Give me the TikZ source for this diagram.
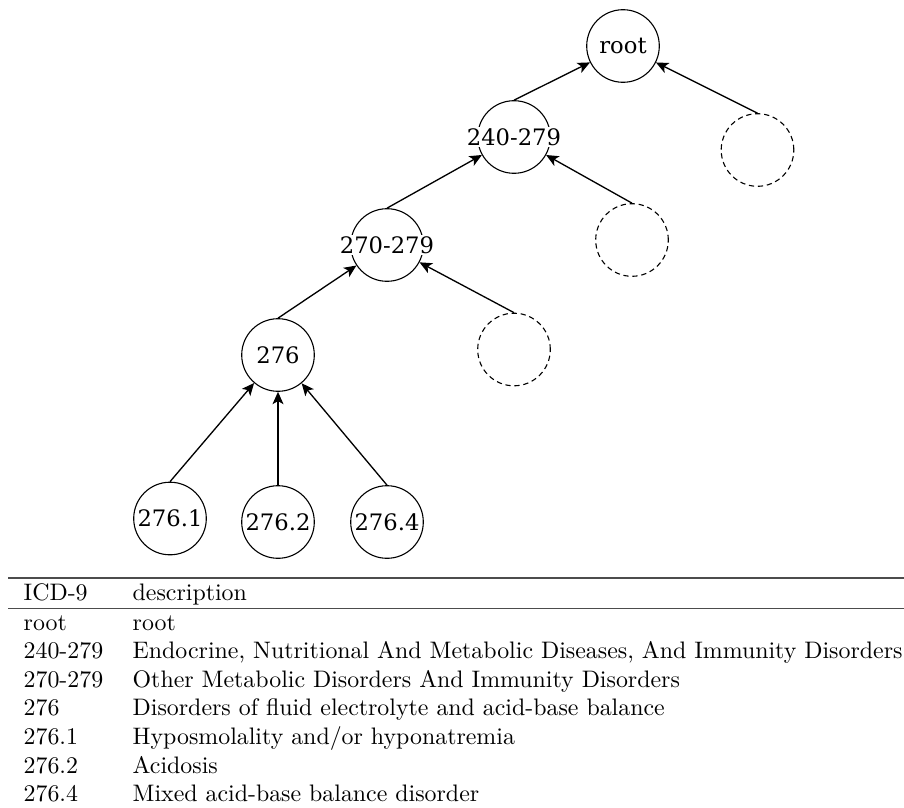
\documentclass[tikz,border=0pt]{standalone}
\usepackage{fontspec}
\newfontfamily\treefont{DejaVu Serif}
\usetikzlibrary{arrows.meta}

\tikzset{
  icd/.style={circle, draw, line width=0.5pt, minimum size=33pt, inner sep=0pt,
    label={[fill=white, inner sep=0.6pt, font=\treefont\fontsize{10.3}{12}\selectfont]center:#1}},
  hidden/.style={circle, draw, line width=0.5pt, dash pattern=on 2.4pt off 1.7pt,
    minimum size=33pt, inner sep=0pt},
  cell/.style={anchor=base west, inner sep=0pt, font=\fontsize{10.85}{13}\selectfont},
  rule/.style={line width=0.9pt, draw=black!70}
}

\begin{document}
\begin{tikzpicture}[x=0.4545pt, y=-0.4545pt, >={Stealth[length=5.6pt,width=5pt,inset=1.4pt]}, line width=0.6pt]
  \useasboundingbox (0,0) rectangle (904,807);

  % tree
  \node[icd=root]    (root) at (623,46)    {};
  \node[icd=240-279] (n240) at (514,137)   {};
  \node[hidden]      (u1)   at (757.5,150) {};
  \node[icd=270-279] (n270) at (387,245)   {};
  \node[hidden]      (u2)   at (632,240)   {};
  \node[icd=276]     (n276) at (278,355)   {};
  \node[hidden]      (u3)   at (514,349.5) {};
  \node[icd=276.1]   (l1)   at (170,518.5) {};
  \node[icd=276.2]   (l2)   at (278,522)   {};
  \node[icd=276.4]   (l4)   at (387,522)   {};

  \path[->]
        (n240.north) edge (root)
        (u1.north)   edge (root)
        (n270.north) edge (n240)
        (u2.north)   edge (n240)
        (n276.north) edge (n270)
        (u3.north)   edge (n270)
        (l1.north)   edge (n276)
        (l2.north)   edge (n276)
        (l4.north)   edge (n276);

  % table
  \draw[rule] (8,578) -- (904,578);
  \node[cell] (hcode) at (23,600)  {ICD-9};
  \node[cell] (hdesc) at (132,600) {description};
  \draw[rule, line width=0.6pt] (8,608.5) -- (904,608.5);
  \foreach \code/\desc [count=\i from 0] in {
      root/root,
      240-279/{Endocrine, Nutritional And Metabolic Diseases, And Immunity Disorders},
      270-279/Other Metabolic Disorders And Immunity Disorders,
      276/Disorders of fluid electrolyte and acid-base balance,
      276.1/{Hyposmolality and/or hyponatremia},
      276.2/Acidosis,
      276.4/Mixed acid-base balance disorder} {
    \node[cell] (code\i) at (23,630+28.6*\i)  {\code};
    \node[cell] (desc\i) at (132,630+28.6*\i) {\desc};
  }
\end{tikzpicture}
\end{document}
